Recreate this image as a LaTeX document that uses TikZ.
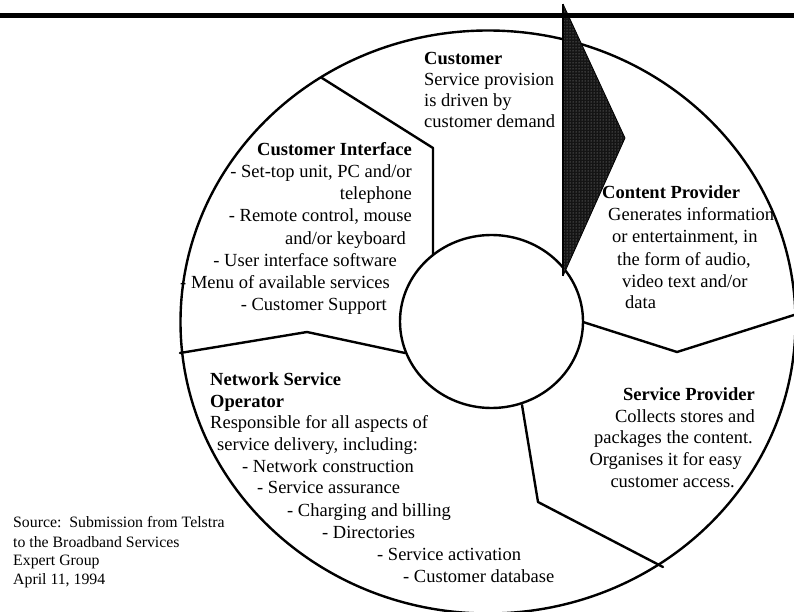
\documentclass[tikz,border=0pt]{standalone}
\usepackage{fontspec}
\setmainfont{Liberation Serif}
\usetikzlibrary{patterns}
\begin{document}
\begin{tikzpicture}[x=1pt,y=-1pt,
  outline/.style={line width=2.4pt, line join=round, line cap=round},
  txt/.style={inner sep=0pt, font=\fontsize{18.5}{22}\selectfont},
  hd/.style={inner sep=0pt, font=\fontsize{18.5}{22}\selectfont\bfseries},
  src/.style={inner sep=0pt, font=\fontsize{15.8}{19}\selectfont, anchor=base west}]
\useasboundingbox (0,0) rectangle (794,612);
\fill[white] (0,0) rectangle (794,612);
% centres
\coordinate (oc) at (488,322);
\coordinate (ic) at (491.5,321.5);
% divider points
\coordinate (a1) at (322,78);
\coordinate (a2) at (433,148);
\coordinate (a3) at (433,255);
\coordinate (b1) at (180,353);
\coordinate (b2) at (307,332);
\coordinate (b3) at (405,353);
\coordinate (c1) at (583,322);
\coordinate (c2) at (677,352);
\coordinate (c3) at (794,315);
\coordinate (d1) at (522,405);
\coordinate (d2) at (538,502);
\coordinate (d3) at (663,567);
\coordinate (w1) at (563,4);
\coordinate (w2) at (625,138);
\coordinate (w3) at (563,276);
% rings
\draw[outline] (oc) ellipse [x radius=307.5pt, y radius=291.5pt];
\draw[outline] (ic) ellipse [x radius=91.5pt, y radius=86.5pt];
% dividers
\draw[outline] (a1) -- (a2) -- (a3);
\draw[outline] (b1) -- (b2) -- (b3);
\draw[outline] (c1) -- (c2) -- (c3);
\draw[outline] (d1) -- (d2) -- (d3);
% wedge
\fill[black!92] (w1) -- (w2) -- (w3) -- cycle;
\fill[pattern=dots, pattern color=black!35] (w1) -- (w2) -- (w3) -- cycle;
\draw[line width=0.8pt] (w1) -- (w2) -- (w3);
\draw[line width=2.6pt] (w1) -- (w3);
% top bar
\coordinate (barL) at (0,16);
\coordinate (barR) at (794,16);
\draw[line width=5pt] (barL) -- (barR);
% Customer
\node[hd, anchor=base west] (cu1) at (424,65) {Customer};
\node[txt, anchor=base west] (cu2) at (424,86) {Service provision};
\node[txt, anchor=base west] (cu3) at (424,107) {is driven by};
\node[txt, anchor=base west] (cu4) at (424,128) {customer demand};
% Customer Interface
\node[hd, anchor=base east] (ci1) at (412,156) {Customer Interface};
\node[txt, anchor=base east] (ci2) at (412,178) {- Set-top unit, PC and/or};
\node[txt, anchor=base east] (ci3) at (412,200) {telephone};
\node[txt, anchor=base east] (ci4) at (412,222) {- Remote control, mouse};
\node[txt, anchor=base east] (ci5) at (406,244) {and/or keyboard};
\node[txt, anchor=base east] (ci6) at (397,266) {- User interface software};
\node[txt, anchor=base east] (ci7) at (390,288) {- Menu of available services};
\node[txt, anchor=base east] (ci8) at (387,310) {- Customer Support};
% Content Provider
\node[hd, anchor=base west] (cp1) at (602,199) {Content Provider};
\node[txt, anchor=base west] (cp2) at (608,221) {Generates information};
\node[txt, anchor=base west] (cp3) at (612,243) {or entertainment, in};
\node[txt, anchor=base west] (cp4) at (617,265) {the form of audio,};
\node[txt, anchor=base west] (cp5) at (622,287) {video text and/or};
\node[txt, anchor=base west] (cp6) at (625,308) {data};
% Service Provider
\node[hd, anchor=base east] (sp1) at (755,400) {Service Provider};
\node[txt, anchor=base east] (sp2) at (755,422) {Collects stores and};
\node[txt, anchor=base east] (sp3) at (753,443) {packages the content.};
\node[txt, anchor=base east] (sp4) at (742,465) {Organises it for easy};
\node[txt, anchor=base east] (sp5) at (735,487) {customer access.};
% Network Service Operator
\node[hd, anchor=base west] (ns1) at (210,385) {Network Service};
\node[hd, anchor=base west] (ns2) at (210,407) {Operator};
\node[txt, anchor=base west] (ns3) at (210,428) {Responsible for all aspects of};
\node[txt, anchor=base west] (ns4) at (217,450) {service delivery, including:};
\node[txt, anchor=base west] (ns5) at (242,472) {- Network construction};
\node[txt, anchor=base west] (ns6) at (257,493) {- Service assurance};
\node[txt, anchor=base west] (ns7) at (287,516) {- Charging and billing};
\node[txt, anchor=base west] (ns8) at (322,538) {- Directories};
\node[txt, anchor=base west] (ns9) at (377,560) {- Service activation};
\node[txt, anchor=base west] (ns10) at (403,582) {- Customer database};
% Source
\node[src] (s1) at (13,527) {Source:\ \ Submission from Telstra};
\node[src] (s2) at (13,547) {to the Broadband Services};
\node[src] (s3) at (13,565) {Expert Group};
\node[src] (s4) at (13,584) {April 11, 1994};
\end{tikzpicture}
\end{document}
